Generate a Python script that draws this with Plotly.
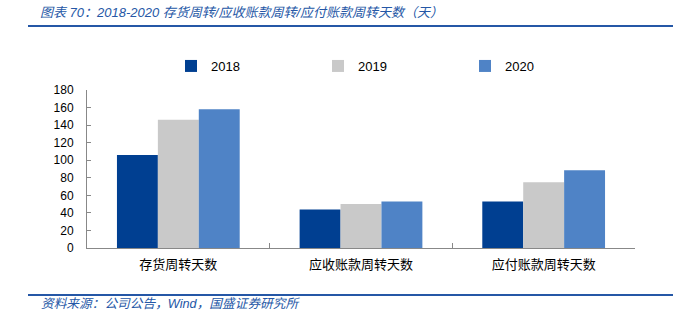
import plotly.graph_objects as go

categories = ["存货周转天数", "应收账款周转天数", "应付账款周转天数"]
years = ["2018", "2019", "2020"]
values_2018 = [106, 44, 53]
values_2019 = [146, 50, 75]
values_2020 = [158, 53, 88.5]
colors = ["#003F91", "#C9C9C9", "#4F83C6"]
y_ticks = [0, 20, 40, 60, 80, 100, 120, 140, 160, 180]

title_text = "图表 70：2018-2020 存货周转/应收账款周转/应付账款周转天数（天）"
source_text = "资料来源：公司公告，Wind，国盛证券研究所"

series = [values_2018, values_2019, values_2020]

fig = go.Figure()
for name, vals, col in zip(years, series, colors):
    fig.add_trace(go.Bar(x=categories, y=vals, name=name, marker=dict(color=col, line=dict(width=0))))

L, R, T, B = 87, 63, 90, 74
W, H = 698, 322
pw, ph = W - L - R, H - T - B

def px_x(p):
    return (p - L) / pw

def px_y(p):
    return (H - B - p) / ph

blue = "#2557A6"
fig.update_layout(
    width=W, height=H,
    margin=dict(l=L, r=R, t=T, b=B, pad=0),
    paper_bgcolor="white", plot_bgcolor="white",
    barmode="group", bargap=0.328, bargroupgap=0,
    font=dict(family="Liberation Sans, Arial, Noto Sans CJK SC", size=12, color="#000000"),
    showlegend=True,
    legend=dict(
        orientation="h", x=px_x(171), xanchor="left", y=px_y(66), yanchor="middle",
        entrywidth=102, entrywidthmode="pixels", itemwidth=30,
        font=dict(size=13, color="#000000"), bgcolor="rgba(0,0,0,0)",
        traceorder="normal",
    ),
    xaxis=dict(
        showline=True, linecolor="#888888", linewidth=1,
        ticks="inside", ticklen=5, tickcolor="#888888", tickson="boundaries",
        tickfont=dict(family="Noto Sans CJK SC", size=13, color="#000000"),
        ticklabelstandoff=4,
        showgrid=False, zeroline=False,
    ),
    yaxis=dict(
        range=[0, 180], tickvals=y_ticks,
        showline=True, linecolor="#888888", linewidth=1,
        ticks="inside", ticklen=4, tickcolor="#888888",
        tickfont=dict(family="Liberation Sans, Arial", size=12, color="#000000"),
        ticklabelstandoff=10,
        showgrid=False, zeroline=False,
    ),
    annotations=[
        dict(text=title_text, xref="paper", yref="paper", x=px_x(38), y=px_y(12),
             xanchor="left", yanchor="middle", showarrow=False,
             font=dict(family="Liberation Sans, Noto Sans CJK SC", size=13, color=blue, style="italic")),
        dict(text=source_text, xref="paper", yref="paper", x=px_x(39), y=px_y(304),
             xanchor="left", yanchor="middle", showarrow=False,
             font=dict(family="Liberation Sans, Noto Sans CJK SC", size=12.7, color=blue, style="italic")),
    ],
    shapes=[
        dict(type="line", xref="paper", yref="paper", x0=px_x(28), x1=px_x(673), y0=px_y(26), y1=px_y(26),
             line=dict(color=blue, width=2)),
        dict(type="line", xref="paper", yref="paper", x0=px_x(28), x1=px_x(673), y0=px_y(295), y1=px_y(295),
             line=dict(color=blue, width=2)),
    ],
)

fig.write_html("out.html")
